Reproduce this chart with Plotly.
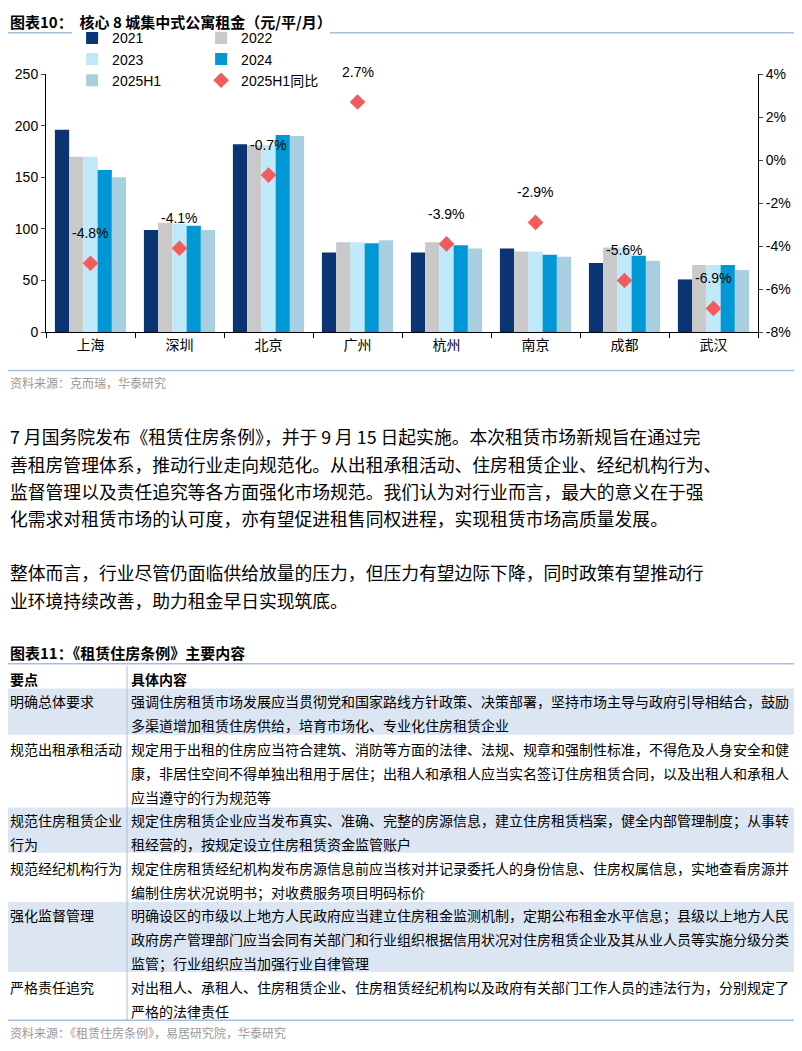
import plotly.graph_objects as go

W, H = 802, 1051
OFF = 8  # default page body margin in the written html
FW, FH = W - 2 * OFF, H - 2 * OFF
cities = ["上海", "深圳", "北京", "广州", "杭州", "南京", "成都", "武汉"]
series_names = ["2021", "2022", "2023", "2024", "2025H1"]
v2021 = [196, 99, 182, 77, 77, 81, 67, 51]
v2022 = [170, 106, 181, 87, 87, 78, 82, 65]
v2023 = [170, 105, 181, 87, 87, 78, 82, 65]
v2024 = [157, 103, 191, 86, 84, 75, 74, 65]
v2025 = [150, 99, 190, 89, 81, 73, 69, 60]
yoy = [-4.8, -4.1, -0.7, 2.7, -3.9, -2.9, -5.6, -6.9]
y2_ticks = [-8, -6, -4, -2, 0, 2, 4]
y2_labels = ["-8%", "-6%", "-4%", "-2%", "0%", "2%", "4%"]
colors = ["#0b3473", "#c9c9c9", "#bfe9f9", "#0098d4", "#a8cfdf"]

para1 = ["7 月国务院发布《租赁住房条例》，并于 9 月 15 日起实施。本次租赁市场新规旨在通过完",
         "善租房管理体系，推动行业走向规范化。从出租承租活动、住房租赁企业、经纪机构行为、",
         "监督管理以及责任追究等各方面强化市场规范。我们认为对行业而言，最大的意义在于强",
         "化需求对租赁市场的认可度，亦有望促进租售同权进程，实现租赁市场高质量发展。"]
para2 = ["整体而言，行业尽管仍面临供给放量的压力，但压力有望边际下降，同时政策有望推动行",
         "业环境持续改善，助力租金早日实现筑底。"]

tbl_keys = ["明确总体要求", "规范出租承租活动", "规范住房租赁企业|行为", "规范经纪机构行为", "强化监督管理", "严格责任追究"]
tbl_text = [
    ["强调住房租赁市场发展应当贯彻党和国家路线方针政策、决策部署，坚持市场主导与政府引导相结合，鼓励",
     "多渠道增加租赁住房供给，培育市场化、专业化住房租赁企业"],
    ["规定用于出租的住房应当符合建筑、消防等方面的法律、法规、规章和强制性标准，不得危及人身安全和健",
     "康，非居住空间不得单独出租用于居住；出租人和承租人应当实名签订住房租赁合同，以及出租人和承租人",
     "应当遵守的行为规范等"],
    ["规定住房租赁企业应当发布真实、准确、完整的房源信息，建立住房租赁档案，健全内部管理制度；从事转",
     "租经营的，按规定设立住房租赁资金监管账户"],
    ["规定住房租赁经纪机构发布房源信息前应当核对并记录委托人的身份信息、住房权属信息，实地查看房源并",
     "编制住房状况说明书；对收费服务项目明码标价"],
    ["明确设区的市级以上地方人民政府应当建立住房租金监测机制，定期公布租金水平信息；县级以上地方人民",
     "政府房产管理部门应当会同有关部门和行业组织根据信用状况对住房租赁企业及其从业人员等实施分级分类",
     "监管；行业组织应当加强行业自律管理"],
    ["对出租人、承租人、住房租赁企业、住房租赁经纪机构以及政府有关部门工作人员的违法行为，分别规定了",
     "严格的法律责任"],
]

FONT = "Liberation Sans, Noto Sans CJK SC"
CJK = "Noto Sans CJK SC"
def py(p):
    return 1 - (p - OFF) / FH
def px(p):
    return (p - OFF) / FW

fig = go.Figure()
for name, vals, c in zip(series_names, [v2021, v2022, v2023, v2024, v2025], colors):
    fig.add_trace(go.Bar(x=cities, y=vals, name=name, marker_color=c, marker_line_width=0))
fig.add_trace(go.Scatter(x=cities, y=yoy, name="2025H1同比", mode="markers", yaxis="y2",
                         marker=dict(symbol="diamond", size=12, color="#f25c5c")))

anns = []
for c, v in zip(cities, yoy):
    anns.append(dict(x=c, y=v, xref="x", yref="y2", text=f"{v:.1f}%", showarrow=False,
                     yshift=30, font=dict(size=14, color="black", family=FONT)))

def text(x, y, s, size=14, color="black", bold=False, family=CJK):
    if bold:
        s = "<b>" + s + "</b>"
    anns.append(dict(x=px(x), y=py(y), xref="paper", yref="paper", text=s, showarrow=False,
                     xanchor="left", yanchor="middle", font=dict(size=size, color=color, family=family)))

text(8, 14, "图表10：  核心 8 城集中式公寓租金（元/平/月）", 15, bold=True)
text(8, 380, "资料来源：克而瑞，华泰研究", 12, "#999999")
for i, s in enumerate(para1):
    text(8, 435 + i * 27.7, s, 17.8)
for i, s in enumerate(para2):
    text(8, 573 + i * 27.7, s, 17.8)
text(8, 655, "图表11：《租赁住房条例》主要内容", 15, bold=True)
text(8, 681, "要点", 14, bold=True)
text(129, 681, "具体内容", 14, bold=True)

rows = [(690, 739), (739, 811), (811, 859), (859, 907), (907, 980), (980, 1028)]
shapes = []
for i, ((y0, y1), k, lines) in enumerate(zip(rows, tbl_keys, tbl_text)):
    if i % 2 == 0:
        shapes.append(dict(type="rect", xref="paper", yref="paper", x0=px(8), x1=px(795),
                           y0=py(y1 - 1), y1=py(y0 + 1), fillcolor="#dce6f2", line_width=0, layer="below"))
    for j, s in enumerate(lines):
        text(129, y0 + 14 + j * 24.3, s, 14)
    for j, s in enumerate(k.split("|")):
        text(8, y0 + 14 + j * 24.3, s, 14)
text(8, 1040, "资料来源：《租赁住房条例》，易居研究院，华泰研究", 12, "#999999")

for y in [25, 368, 666, 1028]:
    shapes.append(dict(type="line", xref="paper", yref="paper", x0=px(8), x1=px(794),
                       y0=py(y), y1=py(y), line=dict(color="#a5bfdd", width=1.5)))
shapes.append(dict(type="line", xref="paper", yref="paper", x0=px(127), x1=px(127),
                   y0=py(1028), y1=py(668), line=dict(color="#a5bfdd", width=1)))

fig.update_layout(
    width=FW, height=FH, margin=dict(l=0, r=0, t=0, b=0),
    paper_bgcolor="white", plot_bgcolor="white",
    font=dict(family=FONT, size=14, color="black"),
    barmode="group", bargap=0.2, bargroupgap=0,
    xaxis=dict(domain=[px(46), px(758)], showline=True, linecolor="black", ticks="outside",
               tickson="boundaries", ticklen=5, tickcolor="black", tickfont=dict(size=14, family=CJK)),
    yaxis=dict(domain=[py(329), py(67)], range=[0, 250], dtick=50, showline=True, linecolor="black",
               ticks="outside", ticklen=4, showgrid=False, zeroline=False),
    yaxis2=dict(overlaying="y", side="right", range=[-8, 4], tickvals=y2_ticks, ticktext=y2_labels,
                showline=True, linecolor="black", ticks="outside", ticklen=4, showgrid=False,
                zeroline=False),
    legend=dict(orientation="h", x=px(118), y=py(52), yanchor="middle", xanchor="left",
                entrywidth=84, entrywidthmode="pixels", font=dict(size=14),
                itemwidth=30, tracegroupgap=0),
    annotations=anns, shapes=shapes, showlegend=True,
)
fig.write_html("out.html")
